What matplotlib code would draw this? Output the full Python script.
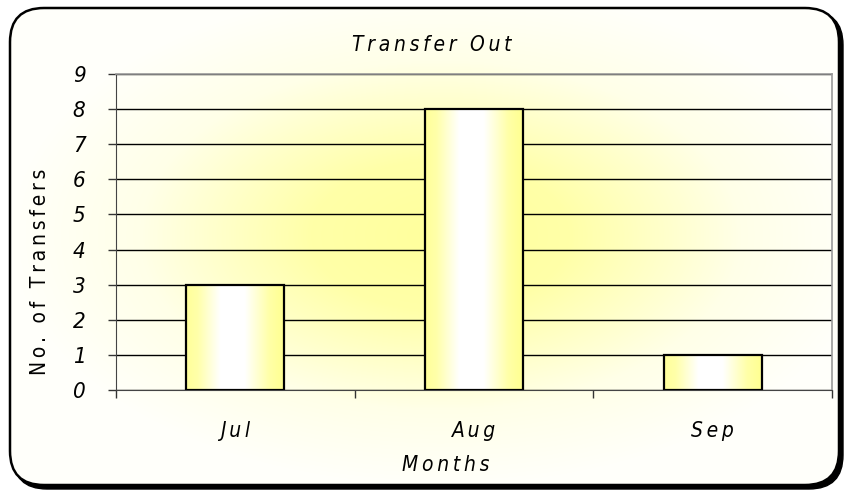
import matplotlib
matplotlib.use("Agg")
import matplotlib.pyplot as plt
import numpy as np
from matplotlib.colors import LinearSegmentedColormap
from matplotlib.patches import FancyBboxPatch

months = ["Jul", "Aug", "Sep"]
transfers = [3, 8, 1]
y_ticks = list(range(0, 10))

plt.rcParams["font.family"] = ["DejaVu Sans"]
plt.rcParams["font.stretch"] = "condensed"


def spaced(s):
    # loose letter spacing like the original chart
    words = ["\u2009".join(w) for w in s.split(" ")]
    return "\u2009 \u2009".join(words)


W, H = 846, 492
fig = plt.figure(figsize=(W / 100, H / 100), dpi=100)
fig.patch.set_facecolor("white")

# background layer (pixel coords)
bg = fig.add_axes([0, 0, 1, 1])
bg.set_xlim(0, W)
bg.set_ylim(H, 0)
bg.axis("off")

shadow = FancyBboxPatch((13, 11), 830, 478, boxstyle="round,pad=0,rounding_size=34",
                        fc="black", ec="black", lw=1)
bg.add_patch(shadow)
box = FancyBboxPatch((10, 8), 829, 477, boxstyle="round,pad=0,rounding_size=34",
                     fc="white", ec="black", lw=1.8)
bg.add_patch(box)

yy, xx = np.mgrid[0:H, 0:W]
r = np.sqrt(((xx - 440) / 430.0) ** 2 + ((yy - 235) / 250.0) ** 2)
t = np.clip(r, 0, 1)
bg_cmap = LinearSegmentedColormap.from_list(
    "glow", [(0, "#ffff9c"), (0.3, "#ffffa8"), (0.7, "#ffffe8"), (1, "#fffffa")])
im = bg.imshow(t, cmap=bg_cmap, vmin=0, vmax=1, extent=(0, W, H, 0), zorder=1)
im.set_clip_path(box)
box.set_zorder(2)
box.set_facecolor("none")

# main plot
ax = fig.add_axes([116 / W, 1 - 390 / H, (832 - 116) / W, (390 - 74) / H])
ax.set_facecolor("none")
x = np.arange(len(months))
bars = ax.bar(x, transfers, width=0.41, facecolor="none", edgecolor="black",
              linewidth=1.6, zorder=3)

bar_cmap = LinearSegmentedColormap.from_list(
    "bar", [(0, "#ffff99"), (0.12, "#ffffaa"), (0.35, "#ffffff"), (0.6, "#ffffff"),
            (0.85, "#ffffa8"), (1, "#ffff90")])
grad = np.linspace(0, 1, 256).reshape(1, -1)
for b in bars:
    x0, w, h = b.get_x(), b.get_width(), b.get_height()
    gi = ax.imshow(grad, cmap=bar_cmap, aspect="auto", extent=(x0, x0 + w, 0, h),
                   zorder=2.5)
    gi.set_clip_path(b)

ax.set_xlim(-0.5, len(months) - 0.5)
ax.set_ylim(0, 9)
ax.set_yticks(y_ticks)
ax.set_yticklabels([str(v) for v in y_ticks], fontstyle="italic", fontsize=16)
ax.set_xticks(x)
ax.set_xticklabels([spaced(m) for m in months], fontstyle="italic", fontsize=15)
ax.set_xticks(np.arange(-0.5, len(months)), minor=True)
ax.tick_params(axis="x", which="major", length=0, pad=22)
ax.tick_params(axis="x", which="minor", length=6, width=1, color="#333333", direction="out")
ax.tick_params(axis="y", length=6, width=1, color="#333333", pad=16)
ax.grid(axis="y", color="black", linewidth=1, zorder=1)
ax.set_axisbelow(True)
for side in ["top", "right"]:
    ax.spines[side].set_color("#999999")
    ax.spines[side].set_linewidth(1.2)
ax.spines["left"].set_color("#444444")
ax.spines["bottom"].set_color("#444444")

fig.text(432 / W, 1 - 45 / H, spaced("Transfer Out"),
         ha="center", va="center", fontstyle="italic", fontsize=15)
fig.text(446 / W, 1 - 465 / H, spaced("Months"), ha="center", va="center",
         fontstyle="italic", fontsize=15)
fig.text(40 / W, 1 - 272 / H, spaced("No. of Transfers"),
         ha="center", va="center", rotation=90, fontsize=15)

fig.savefig("out.png", dpi=100)
